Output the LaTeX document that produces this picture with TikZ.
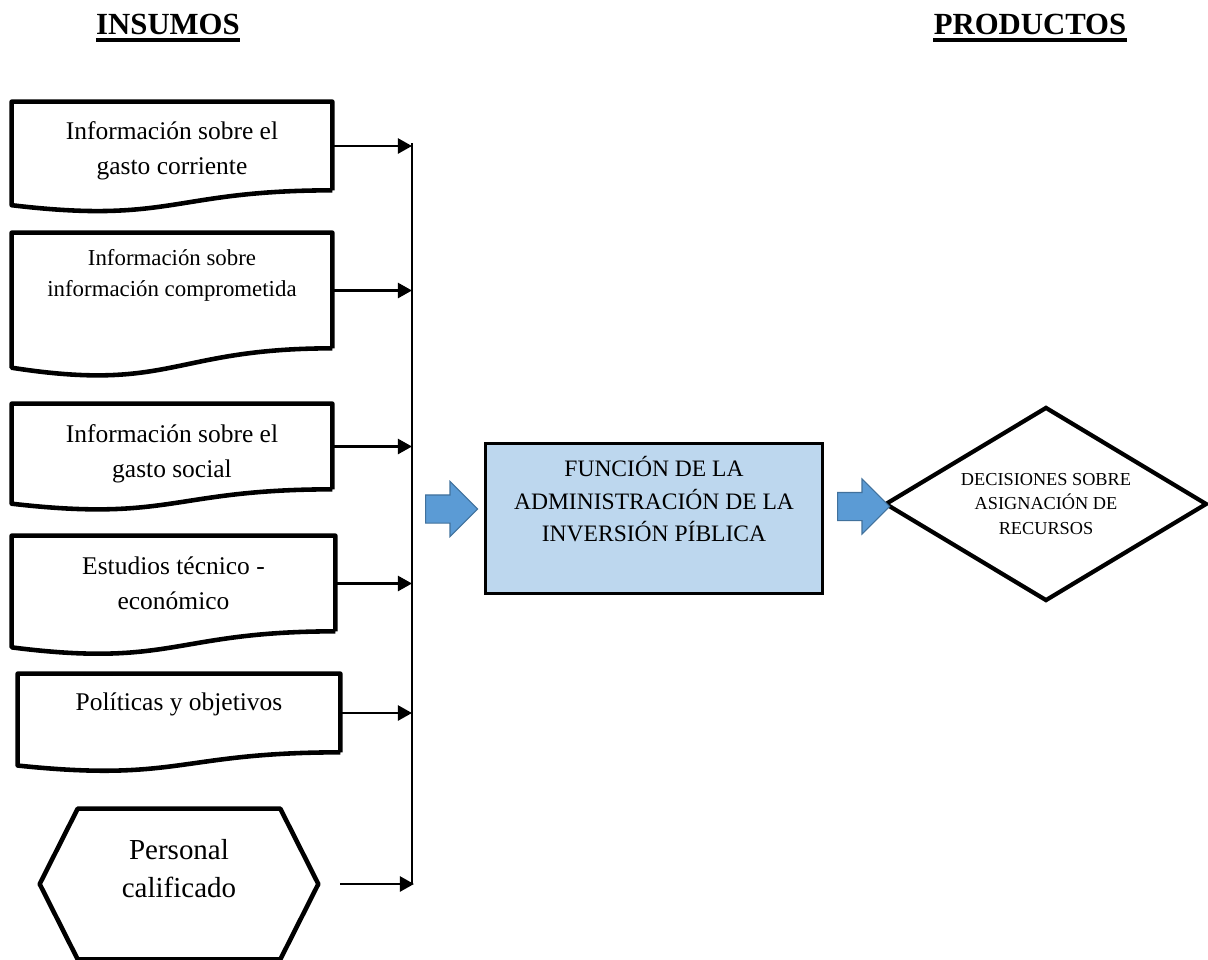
\documentclass[tikz,border=0pt]{standalone}
\usepackage{fontspec}
\setmainfont{Liberation Serif}
\usetikzlibrary{arrows.meta,calc,shapes.geometric,shapes.arrows}
\definecolor{boxblue}{RGB}{189,215,238}
\definecolor{arrowblue}{RGB}{91,155,213}
\definecolor{arrowedge}{RGB}{65,113,156}
\tikzset{
	heading/.style={anchor=base,inner sep=0pt,font=\fontsize{17.5}{20}\selectfont\bfseries},
	uline/.style={line width=1.8pt},
	doc/.style={minimum width=6.4cm,inner sep=0pt,align=center,font=\fontsize{14.5}{19.8}\selectfont},
	docline/.style={line width=2.6pt,line join=round},
	hexa/.style={minimum width=5.56cm,minimum height=3cm,inner sep=0pt,align=center,font=\fontsize{16.5}{21.5}\selectfont},
	proc/.style={draw,line width=1.7pt,fill=boxblue,minimum width=6.76cm,minimum height=3.02cm,inner sep=0pt,align=center,font=\fontsize{13.4}{18.7}\selectfont},
	choice/.style={diamond,draw,line width=2.4pt,aspect=1.66,minimum width=6.44cm,minimum height=3.88cm,inner sep=0pt,align=center,font=\fontsize{10.4}{14}\selectfont},
	bluearrow/.style={single arrow,anchor=west,fill=arrowblue,draw=arrowedge,line width=0.6pt,minimum height=1.04cm,inner sep=0.27cm,single arrow head extend=0.27cm,single arrow tip angle=90},
	bus/.style={line width=1.7pt},
	feed/.style={line width=1.5pt,-{Triangle[length=8pt,width=8.5pt]}}
}
\newcommand{\docframe}[1]{%
	\draw[docline] (#1.south east) -- (#1.north east) -- (#1.north west)
		-- ($(#1.south west)!-0.1675!(#1.north west)$)
		.. controls ($(#1.south)!-0.384!(#1.north)$) and (#1.south) .. (#1.south east);}
\begin{document}
\begin{tikzpicture}[x=0.02cm,y=-0.02cm]
		\useasboundingbox (0,0) rectangle (1208,960);
		\node[heading] (ins) at (168,34) {INSUMOS};
		\node[heading] (prod) at (1030,34) {PRODUCTOS};
		\draw[uline] ([yshift=-3pt]ins.south west) -- ([yshift=-3pt]ins.south east);
		\draw[uline] ([yshift=-3pt]prod.south west) -- ([yshift=-3pt]prod.south east);
		\node[doc,minimum height=1.76cm,text height=1.25cm] (d1) at (172,146) {Información sobre el\\gasto corriente};
		\node[doc,minimum height=2.3cm,text depth=0.7cm,font=\fontsize{13}{18}\selectfont] (d2) at (172,290.5) {Información sobre\\información comprometida};
		\node[doc,minimum height=1.7cm,text height=1.36cm] (d3) at (172,446.5) {Información sobre el\\gasto social};
		\node[doc,minimum height=1.9cm,minimum width=6.46cm] (d4) at (173.5,583.5) {Estudios técnico -\\económico};
		\node[doc,minimum height=1.56cm,minimum width=6.44cm,text depth=0.45cm] (d5) at (179,713) {Políticas y objetivos};
		\node[hexa,text depth=0.62cm] (pers) at (179,884) {Personal\\calificado};
		\node[proc,text depth=0.78cm] (fun) at (654,518.5) {FUNCIÓN DE LA\\ADMINISTRACIÓN DE LA\\INVERSIÓN PÍBLICA};
		\node[choice] (dec) at (1046,504) {DECISIONES SOBRE\\ASIGNACIÓN DE\\RECURSOS};
		\node[bluearrow] (a1) at (425,509) {};
		\node[bluearrow] (a2) at (837,506.5) {};
		\docframe{d1}
		\docframe{d2}
		\docframe{d3}
		\docframe{d4}
		\docframe{d5}
		\draw[docline] (pers.west) -- ([xshift=0.76cm]pers.north west) -- ([xshift=-0.76cm]pers.north east)
			-- (pers.east) -- ([xshift=-0.76cm]pers.south east) -- ([xshift=0.76cm]pers.south west) -- cycle;
		\coordinate (bt) at (412,143);
		\coordinate (bb) at (412,884);
		\draw[bus] (bt) -- (bb);
		\path[feed] (d1.east) edge (d1.east -| bt)
			(d2.east) edge (d2.east -| bt)
			(d3.east) edge (d3.east -| bt)
			(d4.east) edge (d4.east -| bt)
			(d5.east) edge (d5.east -| bt)
			([xshift=0.44cm]pers.east) edge ([xshift=0.04cm]bb);
	\end{tikzpicture}
\end{document}
